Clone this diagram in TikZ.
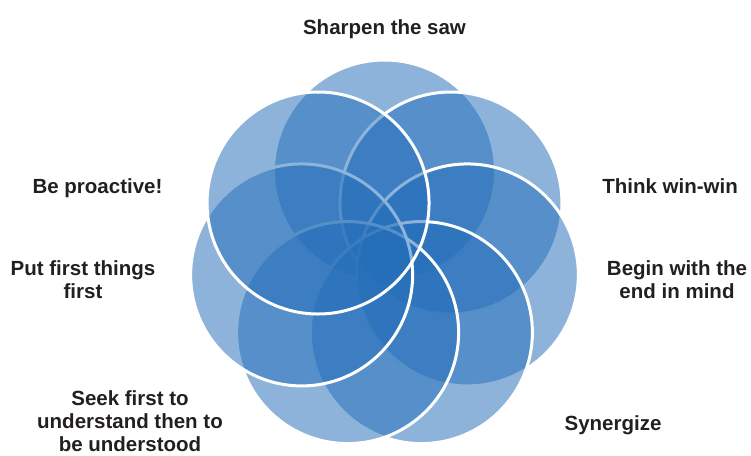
\documentclass[tikz,border=0pt]{standalone}
\usepackage{fontspec}
\setmainfont{Liberation Sans}
\usepackage{tikz}
\usetikzlibrary{positioning,calc}
\definecolor{korkek}{RGB}{36,110,185}
\definecolor{szoveg}{RGB}{35,31,32}
\tikzset{
  kor/.style={fill=korkek,fill opacity=0.52,draw=white,line width=3pt},
  cimke/.style={align=center,anchor=base,inner sep=0pt,text=szoveg,
    font=\bfseries\fontsize{20.5}{23}\selectfont},
}

\begin{document}
\begin{tikzpicture}[x=1pt,y=-1pt]
  \useasboundingbox (0,0) rectangle (751,455);
  \coordinate (kozep) at (384.5,256);
  \foreach \i in {0,...,6}
    \draw[kor] ($(kozep)+({-90+\i*360/7}:85)$) circle (111);
  \node[cimke] (fureszt) at (384.5,34) {Sharpen the saw};
  \node[cimke] (nyer) at (670,193) {Think win-win};
  \node[cimke] (cel) at (677,298.5) {Begin with the\\end in mind};
  \node[cimke] (szinergia) at (613,430) {Synergize};
  \node[cimke] (megert) at (130,451) {Seek first to\\understand then to\\be understood};
  \node[cimke] (fontos) at (83,298.5) {Put first things\\first};
  \node[cimke] (proaktiv) at (97.5,193) {Be proactive!};
\end{tikzpicture}
\end{document}
